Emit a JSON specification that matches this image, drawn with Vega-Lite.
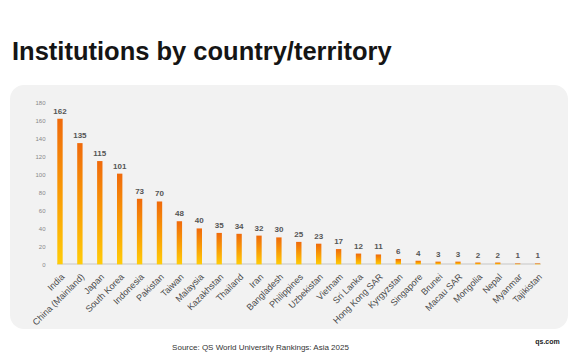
{
  "$schema": "https://vega.github.io/schema/vega-lite/v6.json",
  "width": 558,
  "height": 244,
  "autosize": {"type": "none"},
  "padding": {"left": 10, "top": 85, "right": 14, "bottom": 33},
  "background": "#ffffff",
  "title": {
    "text": "Institutions by country/territory",
    "anchor": "start",
    "frame": "group",
    "font": "Liberation Sans",
    "fontSize": 25.5,
    "fontWeight": "bold",
    "color": "#151515",
    "baseline": "alphabetic",
    "offset": 0,
    "dx": 2
  },
  "config": {
    "view": {"fill": "#f2f2f2", "stroke": null, "cornerRadius": 14},
    "font": "Liberation Sans"
  },
  "data": {
    "values": [
      {"country": "India", "count": 162},
      {"country": "China (Mainland)", "count": 135},
      {"country": "Japan", "count": 115},
      {"country": "South Korea", "count": 101},
      {"country": "Indonesia", "count": 73},
      {"country": "Pakistan", "count": 70},
      {"country": "Taiwan", "count": 48},
      {"country": "Malaysia", "count": 40},
      {"country": "Kazakhstan", "count": 35},
      {"country": "Thailand", "count": 34},
      {"country": "Iran", "count": 32},
      {"country": "Bangladesh", "count": 30},
      {"country": "Philippines", "count": 25},
      {"country": "Uzbekistan", "count": 23},
      {"country": "Vietnam", "count": 17},
      {"country": "Sri Lanka", "count": 12},
      {"country": "Hong Kong SAR", "count": 11},
      {"country": "Kyrgyzstan", "count": 6},
      {"country": "Singapore", "count": 4},
      {"country": "Brunei", "count": 3},
      {"country": "Macau SAR", "count": 3},
      {"country": "Mongolia", "count": 2},
      {"country": "Nepal", "count": 2},
      {"country": "Myanmar", "count": 1},
      {"country": "Tajikistan", "count": 1}
    ]
  },
  "encoding": {
    "x": {
      "field": "country",
      "type": "nominal",
      "sort": null,
      "scale": {
        "domain": ["India", "China (Mainland)", "Japan", "South Korea", "Indonesia", "Pakistan", "Taiwan", "Malaysia", "Kazakhstan", "Thailand", "Iran", "Bangladesh", "Philippines", "Uzbekistan", "Vietnam", "Sri Lanka", "Hong Kong SAR", "Kyrgyzstan", "Singapore", "Brunei", "Macau SAR", "Mongolia", "Nepal", "Myanmar", "Tajikistan"],
        "range": [47.3, 530.3],
        "paddingInner": 0.73,
        "paddingOuter": 0
      },
      "axis": {
        "offset": -65,
        "labelAngle": -45,
        "labelFontSize": 9,
        "labelColor": "#4a4a4a",
        "labelPadding": 8,
        "ticks": false,
        "domain": false,
        "title": "Source: QS World University Rankings: Asia 2025",
        "titleFontSize": 8,
        "titleFontWeight": "normal",
        "titleColor": "#333333",
        "titleX": 250,
        "titleY": 85,
        "titleAlign": "center",
        "titleBaseline": "alphabetic"
      }
    },
    "y": {
      "field": "count",
      "type": "quantitative",
      "scale": {"domain": [-72, 199.7], "nice": false, "zero": false},
      "axis": {
        "offset": -39,
        "values": [0, 20, 40, 60, 80, 100, 120, 140, 160, 180],
        "grid": false,
        "domain": false,
        "ticks": false,
        "labelFontSize": 6,
        "labelColor": "#888888",
        "labelPadding": 4,
        "title": "qs.com",
        "titleAngle": 0,
        "titleFontSize": 7,
        "titleFontWeight": "bold",
        "titleColor": "#222222",
        "titleX": 498,
        "titleY": 258,
        "titleAlign": "center",
        "titleBaseline": "alphabetic"
      }
    }
  },
  "layer": [
    {
      "mark": {"type": "rule", "color": "#dddddd", "strokeWidth": 1},
      "encoding": {
        "x": {"datum": "India", "bandPosition": 0},
        "x2": {"datum": "Tajikistan", "bandPosition": 1},
        "y": {"datum": 0}
      }
    },
    {
      "mark": {
        "type": "bar",
        "color": {
          "gradient": "linear",
          "x1": 0, "y1": 0, "x2": 0, "y2": 1,
          "stops": [
            {"offset": 0, "color": "#ef6a0c"},
            {"offset": 0.5, "color": "#f99a05"},
            {"offset": 1, "color": "#ffcc08"}
          ]
        }
      },
      "encoding": {"y2": {"datum": 0}}
    },
    {
      "mark": {
        "type": "text",
        "baseline": "alphabetic",
        "dy": -5,
        "fontSize": 8,
        "fontWeight": "bold",
        "color": "#555555"
      },
      "encoding": {"text": {"field": "count", "type": "quantitative"}}
    }
  ]
}
